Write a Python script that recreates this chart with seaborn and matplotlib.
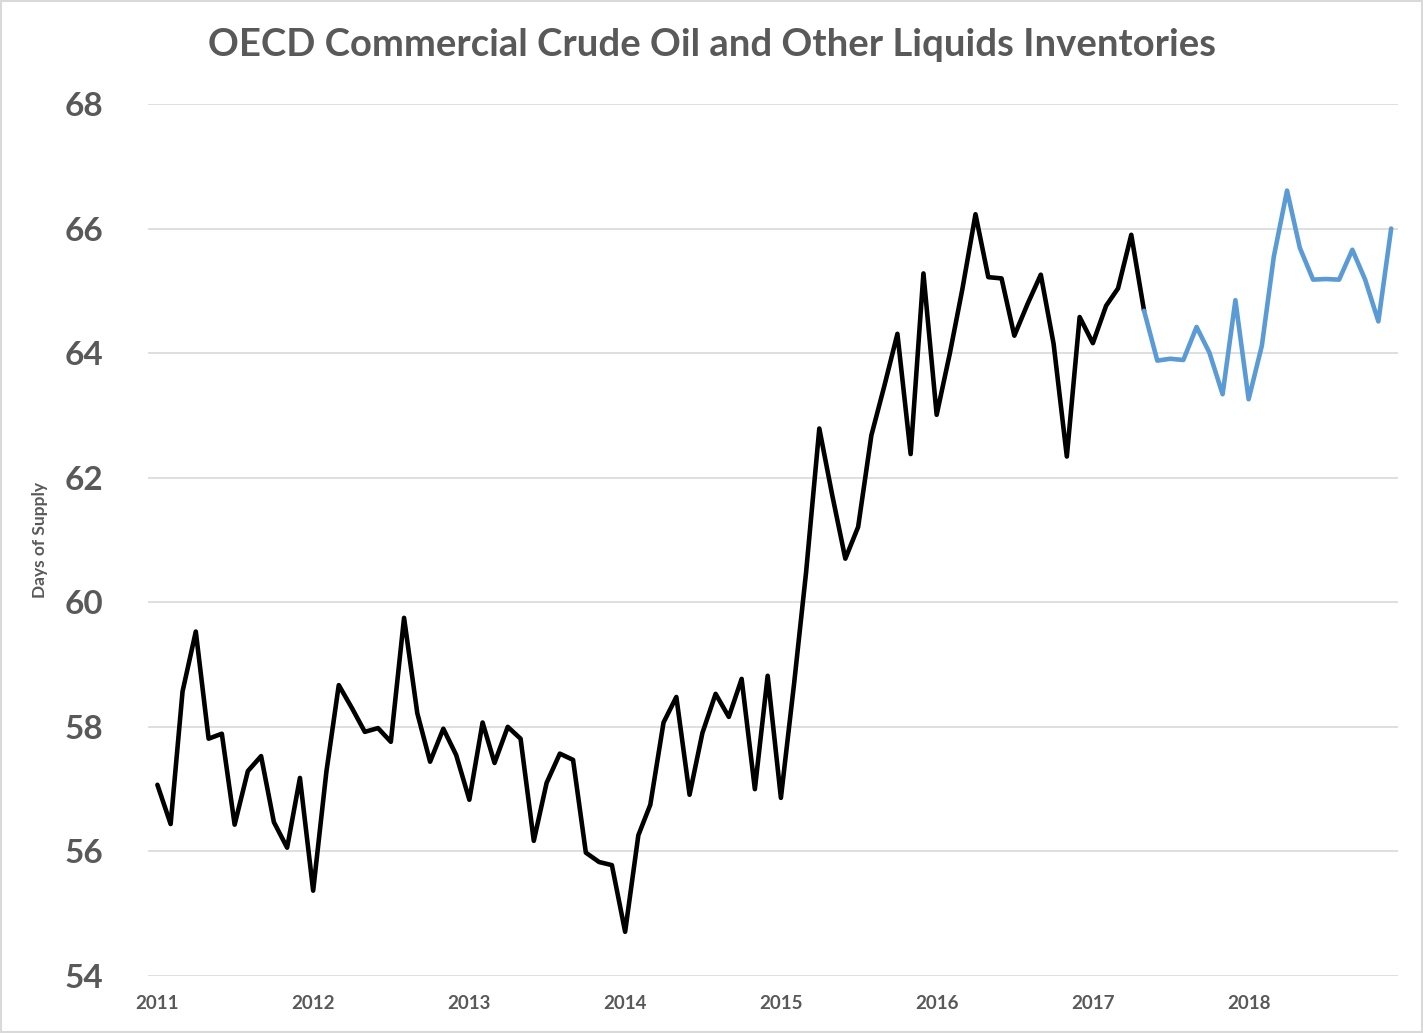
import numpy as np
import pandas as pd
import seaborn as sns
import matplotlib.pyplot as plt
import matplotlib.dates as mdates
from matplotlib.patches import Rectangle

# monthly days of supply, Jan 2011 - May 2017 (history)
history = [
    57.07, 56.44, 58.57, 59.53, 57.81, 57.89, 56.43, 57.29, 57.53, 56.47, 56.06, 57.18,
    55.37, 57.28, 58.67, 58.30, 57.92, 57.98, 57.76, 59.75, 58.22, 57.44, 57.97, 57.55,
    56.83, 58.07, 57.42, 58.00, 57.81, 56.17, 57.10, 57.57, 57.47, 55.98, 55.83, 55.78,
    54.71, 56.26, 56.75, 58.07, 58.48, 56.91, 57.90, 58.53, 58.16, 58.77, 57.00, 58.82,
    56.86, 58.70, 60.48, 62.79, 61.73, 60.70, 61.21, 62.68, 63.49, 64.31, 62.38, 65.28,
    63.01, 64.00, 65.02, 66.23, 65.22, 65.20, 64.28, 64.79, 65.26, 64.15, 62.34, 64.58,
    64.16, 64.76, 65.04, 65.90, 64.68,
]
# forecast, May 2017 - Dec 2018
forecast = [
    64.68, 63.88, 63.91, 63.89, 64.42, 64.01, 63.34, 64.85,
    63.26, 64.12, 65.55, 66.61, 65.69, 65.18, 65.19, 65.18, 65.66, 65.18, 64.51, 66.00,
]
hist_dates = pd.date_range('2011-01-01', periods=len(history), freq='MS')
fc_dates = pd.date_range('2017-05-01', periods=len(forecast), freq='MS')
year_labels = [str(y) for y in range(2011, 2019)]
y_ticks = [54, 56, 58, 60, 62, 64, 66, 68]

df = pd.concat([
    pd.DataFrame({'date': hist_dates, 'days': history, 'kind': 'history'}),
    pd.DataFrame({'date': fc_dates, 'days': forecast, 'kind': 'forecast'}),
])

sns.set_theme(style='white')
plt.rcParams['font.family'] = ['Lato', 'DejaVu Sans']
grey = '#595959'

fig = plt.figure(figsize=(14.23, 10.33), dpi=100)
ax = fig.add_axes([148 / 1423, 1 - 976 / 1033, 1250 / 1423, 872 / 1033])

sns.lineplot(data=df, x='date', y='days', hue='kind',
             palette={'history': 'black', 'forecast': '#5B9BD5'},
             linewidth=3.3, legend=False, ax=ax)

ax.set_ylim(54, 68)
ax.set_yticks(y_ticks)
ax.set_xlim(pd.Timestamp('2010-12-10'), pd.Timestamp('2018-12-17'))
ax.set_xticks([pd.Timestamp(f'{y}-01-01') for y in year_labels])
ax.set_xticklabels(year_labels)
ax.yaxis.grid(True, color='#D9D9D9', linewidth=1.2)
ax.set_axisbelow(True)
for s in ax.spines.values():
    s.set_visible(False)
ax.tick_params(axis='y', length=0, pad=32, labelsize=24, labelcolor=grey)
ax.tick_params(axis='x', length=0, pad=14, labelsize=13.5, labelcolor=grey)
for lab in ax.get_xticklabels() + ax.get_yticklabels():
    lab.set_fontweight('bold')

ax.set_xlabel('')
ax.set_ylabel('Days of Supply', fontsize=12.5, fontweight='bold', color=grey, labelpad=12)
fig.text(0.5, 1 - 45 / 1033, 'OECD Commercial Crude Oil and Other Liquids Inventories',
         ha='center', va='center', fontsize=27.5, fontweight='bold', color=grey)

fig.patches.append(Rectangle((0.001, 0.001), 0.998, 0.998, transform=fig.transFigure,
                             fill=False, edgecolor='#D9D9D9', linewidth=1.5))

fig.savefig('out.png', dpi=100)
